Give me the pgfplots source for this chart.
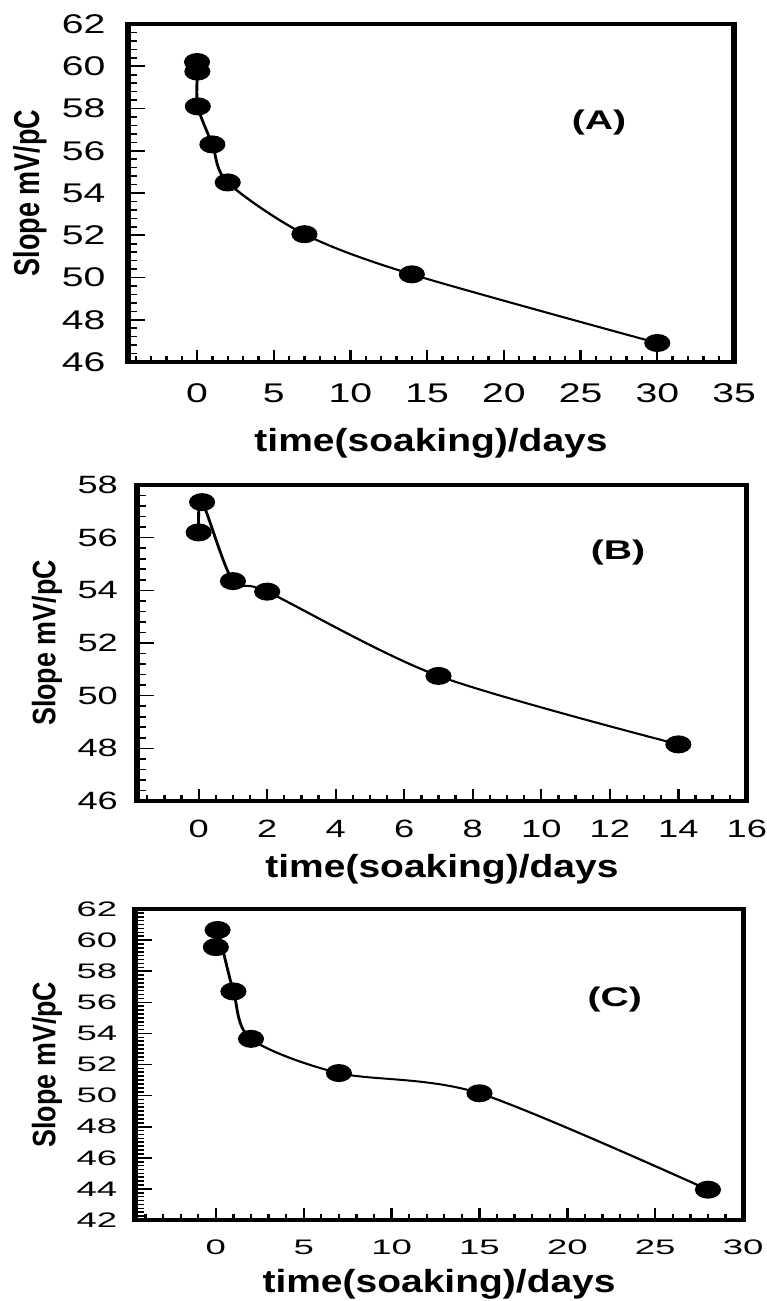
\documentclass[border=0pt]{standalone}
\usepackage{fontspec}
\setmainfont{Liberation Sans}
\usepackage{graphicx}
\usepackage{pgfplots}
\pgfplotsset{compat=1.18}

\newfontfamily\fTick{Liberation Sans}
\newfontfamily\fTickC[FakeStretch=1.2]{Liberation Sans}
\newfontfamily\fXlab[FakeStretch=0.84]{Liberation Sans Bold}
\newfontfamily\fYlabA[FakeStretch=1.09]{Liberation Sans Bold}
\newfontfamily\fYlab[FakeStretch=1.2]{Liberation Sans Bold}
\newfontfamily\fPanel{Liberation Sans Bold}

% the original figure is stretched sideways, so everything is drawn narrow and scaled by 1.45
\pgfplotsset{
  slopepanel/.style={
    scale only axis, anchor=north west,
    axis line style={line width=1.8pt},
    xtick pos=lower, ytick pos=left, tick align=inside,
    major tick length=6pt, minor tick length=3pt,
    tick style={black, line width=0.8pt},
    /pgf/number format/assume math mode=true,
    xticklabel style={anchor=base, inner sep=0pt},
    yticklabel style={anchor=east, inner sep=0pt},
    xlabel={time(soaking)/days}, ylabel={Slope mV/pC},
    xlabel style={font=\fXlab\fontsize{16}{16}\selectfont, at={(axis description cs:0.5,0)}, anchor=base},
    ylabel style={anchor=base},
  },
  curve/.style={black, line width=1pt, smooth, mark=*, mark size=4pt, mark options={fill=black, solid}},
}
\tikzset{paneltag/.style={font=\fPanel\fontsize{13.5}{13.5}\selectfont}}

\begin{document}
\scalebox{1.45}[1]{%
\begin{tikzpicture}
\useasboundingbox (0,0) rectangle (264.14pt,-650.5pt);

% (A)
\begin{axis}[slopepanel, at={(44.14pt,-12pt)}, width=208.97pt, height=169pt,
  xmin=-4.5, xmax=35, ymin=46, ymax=62,
  xtick={0,5,...,35}, minor xtick={-4,...,34},
  ytick={46,48,...,62}, minor y tick num=4,
  xticklabel style={yshift=-20pt, font=\fTick\fontsize{13.5}{13.5}\selectfont},
  yticklabel style={xshift=-7.6pt, font=\fTick\fontsize{13.5}{13.5}\selectfont},
  xlabel style={yshift=-44.85pt},
  ylabel style={at={(axis description cs:-0.1463,0.5)}, font=\fYlabA\fontsize{12.4}{12.4}\selectfont},
]
\addplot[curve] coordinates {(0,60.2) (0.02,59.75) (0.05,58.1) (1,56.3) (2,54.5) (7,52.05) (14,50.15) (30,46.9)};
\node[paneltag] at (axis cs:26.2,57.35) {(A)};
\end{axis}

% (B)
\begin{axis}[slopepanel, at={(47.24pt,-242.5pt)}, width=210.3pt, height=158pt,
  xmin=-1.8, xmax=16, ymin=46, ymax=58,
  xtick={0,2,...,16}, minor xtick={-1.5,-1,...,15.5},
  ytick={46,48,...,58}, minor y tick num=4,
  xticklabel style={yshift=-18.2pt, font=\fTick\fontsize{12.5}{12.5}\selectfont},
  yticklabel style={xshift=-6.4pt, font=\fTick\fontsize{12.5}{12.5}\selectfont},
  xlabel style={yshift=-38.2pt},
  ylabel style={at={(axis description cs:-0.134,0.5)}, font=\fYlab\fontsize{11.2}{11.2}\selectfont},
]
\addplot[curve] coordinates {(0,56.2) (0.1,57.35) (1,54.35) (2,53.95) (7,50.75) (14,48.15)};
\node[paneltag] at (axis cs:12.24,55.44) {(B)};
\end{axis}

% (C)
\begin{axis}[slopepanel, at={(46.55pt,-454.5pt)}, width=209.7pt, height=155.5pt,
  xmin=-4.6, xmax=30, ymin=42, ymax=62,
  xtick={0,5,...,30}, minor xtick={-4,...,29},
  ytick={42,44,...,62}, minor y tick num=7,
  xticklabel style={yshift=-17pt, font=\fTickC\fontsize{10.5}{10.5}\selectfont},
  yticklabel style={xshift=-5.9pt, font=\fTickC\fontsize{10.5}{10.5}\selectfont},
  xlabel style={yshift=-36pt},
  ylabel style={at={(axis description cs:-0.131,0.5)}, font=\fYlab\fontsize{11.2}{11.2}\selectfont},
]
\addplot[curve] coordinates {(0,59.55) (0.1,60.65) (1,56.7) (2,53.65) (7,51.45) (15,50.15) (28,43.95)};
\node[paneltag] at (axis cs:22.7,56.21) {(C)};
\end{axis}
\end{tikzpicture}}
\end{document}
